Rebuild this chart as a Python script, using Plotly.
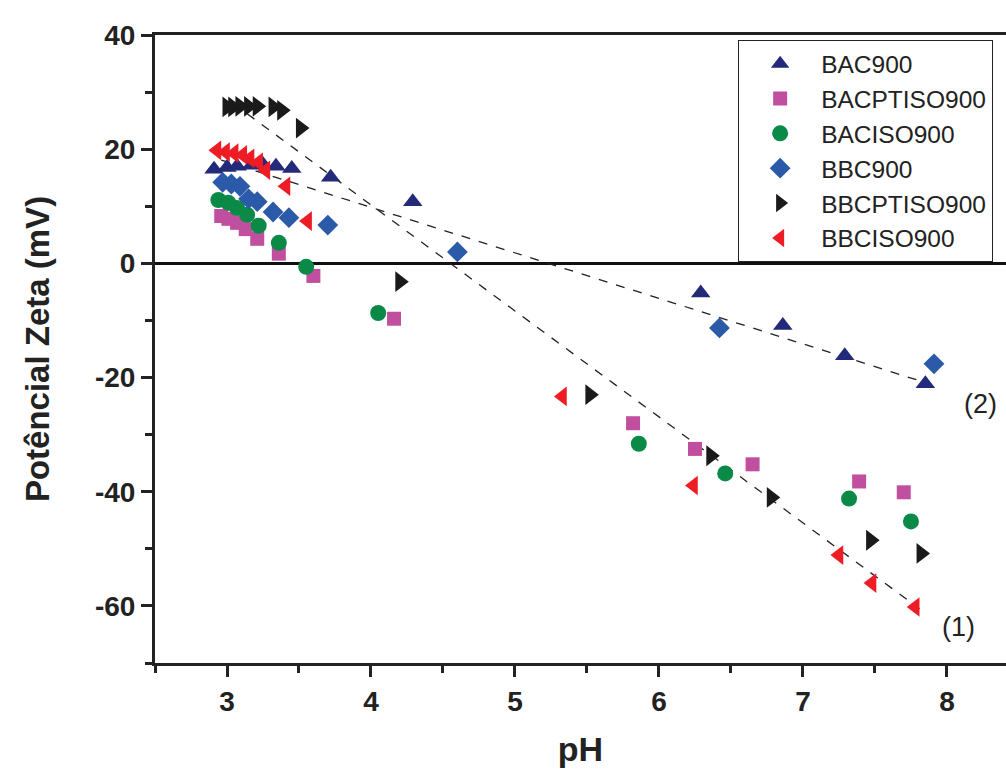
import plotly.graph_objects as go

# Zeta potential (mV) versus pH for six carbon samples
bac900_ph = [2.91, 3.00, 3.07, 3.17, 3.25, 3.34, 3.45, 3.72, 4.29, 6.29, 6.86, 7.29, 7.85]
bac900_zeta = [16.5, 16.8, 17.0, 17.2, 17.3, 17.0, 16.6, 15.1, 10.8, -5.2, -10.9, -16.2, -21.1]

bacptiso900_ph = [2.96, 3.01, 3.07, 3.13, 3.21, 3.36, 3.60, 4.16, 5.82, 6.25, 6.65, 7.39, 7.70]
bacptiso900_zeta = [8.3, 7.8, 7.1, 6.0, 4.3, 1.7, -2.2, -9.7, -28.0, -32.5, -35.2, -38.2, -40.1]

baciso900_ph = [2.94, 3.01, 3.07, 3.14, 3.22, 3.36, 3.55, 4.05, 5.86, 6.46, 7.32, 7.75]
baciso900_zeta = [11.1, 10.6, 9.7, 8.5, 6.6, 3.6, -0.6, -8.7, -31.6, -36.8, -41.2, -45.2]

bbc900_ph = [2.97, 3.03, 3.09, 3.15, 3.21, 3.32, 3.43, 3.70, 4.60, 6.42, 7.91]
bbc900_zeta = [14.2, 13.9, 13.5, 11.3, 10.8, 9.0, 8.0, 6.7, 2.0, -11.3, -17.6]

bbcptiso900_ph = [3.00, 3.04, 3.09, 3.15, 3.21, 3.32, 3.38, 3.51, 4.20, 5.52, 6.36, 6.78, 7.47, 7.82]
bbcptiso900_zeta = [27.4, 27.4, 27.5, 27.5, 27.5, 27.4, 26.8, 23.7, -3.2, -23.0, -33.7, -41.0, -48.5, -50.8]

bbciso900_ph = [2.93, 2.99, 3.05, 3.11, 3.16, 3.22, 3.27, 3.41, 3.56, 5.33, 6.24, 7.25, 7.48, 7.78]
bbciso900_zeta = [19.8, 19.5, 19.3, 19.0, 18.4, 17.7, 16.3, 13.5, 7.4, -23.3, -38.9, -51.1, -56.0, -60.2]

# Linear trend lines (1) and (2): end points
trend1_ph = [3.14, 7.81]
trend1_zeta = [26.2, -60.5]
trend2_ph = [2.96, 7.89]
trend2_zeta = [18.1, -21.2]

trend_labels = ["(1)", "(2)"]
trend_label_ph = [8.08, 8.23]
trend_label_zeta = [-63.7, -24.7]

x_ticks = [3, 4, 5, 6, 7, 8]
y_ticks = [40, 20, 0, -20, -40, -60]

series = [
    ("BAC900", bac900_ph, bac900_zeta, "triangle-up", "#232a7a", 17),
    ("BACPTISO900", bacptiso900_ph, bacptiso900_zeta, "square", "#c04f9f", 14),
    ("BACISO900", baciso900_ph, baciso900_zeta, "circle", "#0a8a46", 16),
    ("BBC900", bbc900_ph, bbc900_zeta, "diamond", "#2b5aa9", 16),
    ("BBCPTISO900", bbcptiso900_ph, bbcptiso900_zeta, "triangle-right", "#1b1a1a", 18),
    ("BBCISO900", bbciso900_ph, bbciso900_zeta, "triangle-left", "#ee1c25", 17),
]

BOLD = "Liberation Sans, Arial, sans-serif"
REG = "Liberation Sans, Arial, sans-serif"

fig = go.Figure()

for px, pz in [(trend1_ph, trend1_zeta), (trend2_ph, trend2_zeta)]:
    fig.add_trace(go.Scatter(
        x=px, y=pz, mode="lines", showlegend=False, hoverinfo="skip",
        line=dict(color="#222222", width=1.3, dash="dash"),
    ))

for name, xs, ys, sym, col, size in series:
    fig.add_trace(go.Scatter(
        x=xs, y=ys, mode="markers", name=name,
        marker=dict(symbol=sym, color=col, size=size, line=dict(width=0)),
    ))

for lab, lx, ly in zip(trend_labels, trend_label_ph, trend_label_zeta):
    fig.add_annotation(x=lx, y=ly, text=lab, showarrow=False,
                       font=dict(family=REG, size=27, color="#222222"))

fig.update_layout(
    width=1006, height=771,
    margin=dict(l=155, r=0, t=35, b=108),
    plot_bgcolor="white", paper_bgcolor="white",
    showlegend=True,
    legend=dict(
        x=0.685, y=0.992, xanchor="left", yanchor="top",
        bordercolor="#222222", borderwidth=1.2, bgcolor="white",
        font=dict(family=REG, size=24.5, color="#222222"),
        itemwidth=72, tracegroupgap=0,
    ),
)

fig.update_xaxes(
    range=[2.5, 8.41],
    tickvals=x_ticks, ticktext=[str(v) for v in x_ticks],
    ticks="outside", ticklen=11, tickwidth=2.5, tickcolor="#222222",
    minor=dict(dtick=0.5, tick0=2.5, ticks="outside", ticklen=7, tickwidth=2.5, tickcolor="#222222"),
    showline=True, linewidth=3, linecolor="#222222", mirror=True,
    showgrid=False, zeroline=False,
    tickfont=dict(family=BOLD, size=28, color="#222222", weight="bold"),
    title=dict(text="<b>pH</b>", font=dict(family=BOLD, size=34, color="#222222"), standoff=22),
)

fig.update_yaxes(
    range=[-70, 40],
    tickvals=y_ticks, ticktext=[str(v) for v in y_ticks],
    ticks="outside", ticklen=11, tickwidth=2.5, tickcolor="#222222",
    minor=dict(dtick=10, tick0=0, ticks="outside", ticklen=7, tickwidth=2.5, tickcolor="#222222"),
    showline=True, linewidth=3, linecolor="#222222", mirror=False,
    showgrid=False,
    zeroline=True, zerolinecolor="#111111", zerolinewidth=2.5,
    tickfont=dict(family=BOLD, size=28, color="#222222", weight="bold"),
    title=dict(text="<b>Potêncial Zeta (mV)</b>", font=dict(family=BOLD, size=33, color="#222222"), standoff=36),
)

fig.write_html("out.html")
